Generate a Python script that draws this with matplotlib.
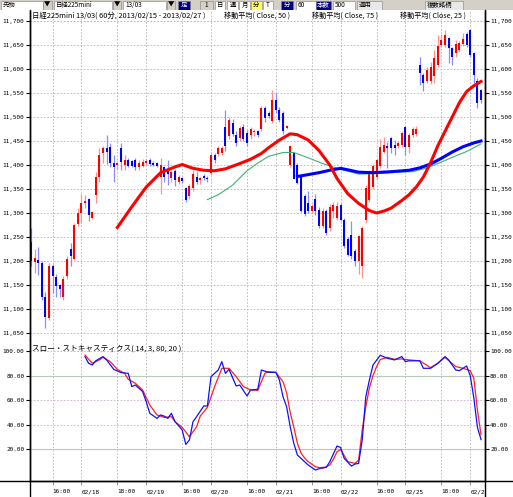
import matplotlib
matplotlib.use('Agg')
import matplotlib.pyplot as plt
from matplotlib.patches import Rectangle
from matplotlib.lines import Line2D

W, H = 513, 497
MONO = ['DejaVu Sans Mono']
CJK = ['Noto Sans CJK JP', 'DejaVu Sans']
FS = 4.3

# 60-minute candles, bar index 0..125
opens = [11240, 11198, 11203, 11195, 11125, 11081, 11190, 11166, 11150, 11125,
         11168, 11225, 11205, 11277, 11300, 11320, 11330, 11289, 11338, 11376,
         11424, 11435, 11438, 11405, 11400, 11435, 11400, 11410, 11408, 11410,
         11395, 11398, 11405, 11410, 11405, 11404, 11375, 11395, 11390, 11372,
         11387, 11364, 11372, 11352, 11335, 11352, 11375, 11368, 11378, 11372,
         11384, 11420, 11422, 11424, 11480, 11460, 11488, 11463, 11456, 11480,
         11467, 11463, 11468, 11470, 11474, 11519, 11508, 11491, 11536, 11515,
         11508, 11478, 11399, 11425, 11401, 11376, 11335, 11321, 11304, 11330,
         11307, 11272, 11304, 11268, 11304, 11290, 11317, 11286, 11245, 11255,
         11220, 11200, 11190, 11286, 11327, 11355, 11376, 11397, 11428, 11440,
         11456, 11442, 11440, 11442, 11480, 11438, 11462, 11465, 11608, 11588,
         11574, 11574, 11585, 11608, 11650, 11650, 11664, 11643, 11633, 11640,
         11652, 11673, 11681, 11633, 11574, 11557]
highs = [11268, 11226, 11230, 11200, 11135, 11195, 11193, 11172, 11152, 11168,
         11210, 11237, 11280, 11310, 11340, 11338, 11332, 11305, 11386, 11435,
         11440, 11462, 11445, 11420, 11408, 11445, 11420, 11415, 11410, 11415,
         11410, 11412, 11412, 11415, 11408, 11406, 11415, 11398, 11411, 11390,
         11392, 11380, 11375, 11355, 11360, 11390, 11385, 11375, 11382, 11378,
         11425, 11425, 11440, 11440, 11515, 11500, 11495, 11470, 11482, 11485,
         11472, 11480, 11475, 11472, 11522, 11522, 11512, 11557, 11550, 11520,
         11512, 11484, 11441, 11426, 11405, 11378, 11340, 11345, 11318, 11340,
         11312, 11310, 11308, 11318, 11322, 11322, 11320, 11290, 11250, 11283,
         11225, 11255, 11272, 11358, 11390, 11402, 11415, 11455, 11458, 11448,
         11458, 11452, 11450, 11470, 11482, 11466, 11480, 11482, 11626, 11592,
         11605, 11615, 11640, 11670, 11673, 11681, 11667, 11646, 11660, 11658,
         11674, 11678, 11684, 11636, 11581, 11559]
lows = [11190, 11174, 11171, 11118, 11060, 11078, 11133, 11126, 11126, 11118,
        11163, 11190, 11202, 11272, 11282, 11310, 11284, 11288, 11320, 11365,
        11405, 11403, 11396, 11365, 11392, 11390, 11390, 11395, 11395, 11390,
        11390, 11395, 11400, 11398, 11398, 11396, 11339, 11365, 11359, 11365,
        11357, 11360, 11362, 11322, 11330, 11345, 11360, 11360, 11368, 11365,
        11380, 11405, 11418, 11420, 11430, 11455, 11460, 11440, 11450, 11450,
        11440, 11455, 11460, 11458, 11470, 11490, 11498, 11488, 11508, 11490,
        11465, 11475, 11395, 11370, 11360, 11302, 11294, 11300, 11300, 11296,
        11268, 11268, 11255, 11262, 11290, 11285, 11283, 11228, 11210, 11205,
        11189, 11172, 11165, 11280, 11323, 11350, 11370, 11393, 11425, 11393,
        11425, 11420, 11435, 11438, 11421, 11424, 11458, 11460, 11567, 11554,
        11570, 11568, 11570, 11605, 11645, 11645, 11612, 11609, 11625, 11635,
        11648, 11645, 11625, 11570, 11518, 11530]
closes = [11200, 11207, 11195, 11125, 11084, 11190, 11168, 11148, 11141, 11163,
          11205, 11210, 11275, 11299, 11320, 11326, 11295, 11303, 11375, 11420,
          11435, 11428, 11405, 11395, 11405, 11407, 11410, 11398, 11398, 11395,
          11405, 11406, 11408, 11402, 11400, 11398, 11400, 11375, 11382, 11385,
          11369, 11376, 11366, 11328, 11356, 11382, 11365, 11372, 11372, 11370,
          11420, 11410, 11435, 11436, 11440, 11494, 11465, 11446, 11477, 11455,
          11446, 11475, 11470, 11462, 11519, 11498, 11502, 11536, 11515, 11494,
          11470, 11481, 11439, 11371, 11363, 11304, 11297, 11304, 11314, 11305,
          11272, 11304, 11258, 11313, 11317, 11315, 11286, 11231, 11213, 11210,
          11199, 11252, 11268, 11352, 11386, 11397, 11411, 11438, 11442, 11436,
          11435, 11436, 11446, 11466, 11438, 11462, 11476, 11476, 11591, 11570,
          11598, 11605, 11622, 11647, 11660, 11671, 11643, 11626, 11653, 11655,
          11662, 11650, 11629, 11588, 11529, 11535]

# moving averages (bar index, price)
ma25_idx = [24, 28, 32, 36, 40, 42, 45, 48, 51, 54, 58, 61, 64, 66, 69, 72, 74, 77,
            80, 83, 85, 88, 91, 94, 96, 98, 100, 103, 105, 107, 109, 111, 113, 115,
            117, 119, 121, 123, 125]
ma25_val = [11270, 11313, 11354, 11384, 11396, 11401, 11393, 11389, 11388, 11392,
            11403, 11412, 11424, 11436, 11452, 11465, 11463, 11452, 11430, 11400,
            11372, 11340, 11320, 11305, 11300, 11304, 11310, 11326, 11338, 11354,
            11375, 11405, 11440, 11470, 11500, 11530, 11553, 11565, 11574]
ma50_idx = [49, 52, 56, 60, 63, 66, 70, 73, 77, 81, 86, 91, 96, 101, 106, 110, 114,
            117, 121, 125]
ma50_val = [11328, 11338, 11358, 11388, 11404, 11418, 11426, 11426, 11415, 11403,
            11391, 11381, 11382, 11385, 11386, 11394, 11406, 11416, 11428, 11444]
ma75_idx = [74, 77, 80, 83, 86, 88, 91, 95, 100, 105, 108, 111, 114, 117, 120, 123, 125]
ma75_val = [11376, 11380, 11384, 11389, 11393, 11390, 11385, 11384, 11386, 11389,
            11394, 11402, 11414, 11427, 11438, 11446, 11450]

# slow stochastics (14, 3, 80, 20)
k_idx = [15, 16, 17, 18, 20, 21, 23, 25, 27, 28, 29, 31, 32, 33, 35, 36, 37, 38, 39,
         40, 41, 42, 43, 44, 45, 46, 48, 49, 50, 52, 53, 54, 55, 57, 58, 60, 61, 63,
         64, 66, 68, 69, 70, 71, 72, 73, 74, 76, 77, 79, 81, 82, 83, 85, 86, 87, 89,
         90, 91, 92, 93, 94, 95, 97, 99, 101, 103, 104, 105, 108, 109, 111, 113, 115,
         116, 118, 119, 121, 122, 123, 124, 125]
k_val = [95.4, 90, 88.6, 92, 95.4, 92.7, 85, 82.4, 81.8, 71, 72.3, 67, 58.8, 49.3,
         45.2, 48, 47, 45.2, 49.3, 42.5, 39.3, 35.7, 24, 27.6, 42.5, 46.6, 55.3, 55.3,
         79.1, 84.5, 91.3, 81.8, 85, 71.5, 72.3, 63.4, 68.3, 68.8, 84.5, 82.6, 82.6,
         76.4, 62.8, 54.7, 38.4, 24.9, 15.4, 10, 7.3, 3.2, 5.3, 5.3, 10, 22.7, 21.6,
         12.7, 6.4, 8.1, 8.6, 27.6, 62.8, 76.4, 88.6, 96.5, 94, 92.7, 95.4, 91.3, 92,
         92, 85.9, 85.9, 90, 95.4, 92.7, 84.5, 84, 87.8, 80, 62, 38, 28]
d_idx = [15, 17, 19, 20, 22, 24, 26, 27, 29, 31, 33, 35, 37, 39, 40, 42, 44, 46, 47,
         49, 51, 53, 55, 57, 59, 61, 63, 64, 65, 66, 68, 70, 71, 72, 73, 74, 75, 76,
         77, 79, 81, 83, 84, 85, 86, 87, 88, 90, 91, 92, 93, 94, 95, 96, 97, 99, 101,
         103, 105, 108, 111, 113, 115, 118, 120, 122, 123, 124, 125]
d_val = [96.7, 90, 92.7, 94.8, 91.3, 85, 81.8, 77, 73.7, 68.3, 56, 48, 46, 46.6, 42.5,
         37.9, 30.3, 38.4, 47, 54.2, 71, 85.9, 85.9, 79.1, 71, 68.3, 68, 75, 82, 83.2,
         82.6, 75, 66, 50, 38, 25, 17, 13, 10, 5.9, 4.5, 7.3, 12, 18, 20, 15, 10, 8.6,
         11.3, 35.7, 54.7, 70, 80, 87.3, 93, 94.8, 93.2, 93.5, 92.7, 92, 86.4, 90,
         94.8, 87.3, 85.9, 84, 77.8, 52, 32]

x_ticks = [6, 14, 24, 32, 42, 50, 60, 68, 78, 86, 96, 104, 114, 122]
x_labels = ['16:00', '02/18', '18:00', '02/19', '16:00', '02/20', '16:00', '02/21',
            '16:00', '02/22', '16:00', '02/25', '18:00', '02/2']
price_ticks = list(range(11050, 11701, 50))
stoch_ticks = [20, 40, 60, 80, 100]

XL = (-0.28, 125.97)
left, right = 30 / W, 484.5 / W
fig = plt.figure(figsize=(W / 100, H / 100), dpi=100)
fig.patch.set_facecolor('white')

ax = fig.add_axes([left, 1 - 340 / H, right - left, 329 / H])
ax2 = fig.add_axes([left, 1 - 481 / H, right - left, 141 / H])

grid_kw = dict(color='#b4b4b4', lw=0.6, ls=(0, (2, 2)), zorder=0)
for a in (ax, ax2):
    a.set_xlim(*XL)
    for t in x_ticks:
        a.axvline(t, **grid_kw)
    a.spines['top'].set_visible(False)
    for s in ('left', 'right', 'bottom'):
        a.spines[s].set_linewidth(1.0)
    a.tick_params(axis='y', which='both', left=True, right=True, labelleft=True,
                  labelright=True, direction='out', length=3, width=0.8,
                  labelsize=FS, pad=1)

# main price panel
ax.set_ylim(11035.4, 11720.8)
ax.spines['bottom'].set_visible(False)
ax.set_xticks([])
for p in price_ticks:
    ax.axhline(p, color='#d090c0' if p == 11700 else '#b4b4b4', lw=0.6,
               ls=(0, (2, 2)), zorder=0)
ax.set_yticks(price_ticks)
ax.set_yticklabels([f'{p:,}' for p in price_ticks], family=MONO, fontsize=FS)

for i, (o, h, l, c) in enumerate(zip(opens, highs, lows, closes)):
    up = c >= o
    body = '#ff0000' if up else '#0000ff'
    wick = '#ff9090' if up else '#8c8cff'
    ax.vlines(i, l, h, color=wick, lw=0.9, zorder=2)
    ax.bar(i, max(abs(c - o), 2), bottom=min(o, c), width=0.6, color=body,
           lw=0, zorder=3)

ax.plot(ma50_idx, ma50_val, color='#3cb371', lw=0.8, zorder=4)
ax.plot(ma75_idx, ma75_val, color='#0000ff', lw=2.2, zorder=5)
ax.plot(ma25_idx, ma25_val, color='#ff0000', lw=2.2, zorder=6)

ax.text(2 / 454.5, 0.999, '日経225mini 13/03( 60分, 2013/02/15 - 2013/02/27 )',
        transform=ax.transAxes, family=CJK, fontsize=5.3, va='top', ha='left')
for xp, lab in [(224, '移動平均( Close, 50 )'), (312, '移動平均( Close, 75 )'),
                (400, '移動平均( Close, 25 )')]:
    ax.text((xp - 30) / 454.5, 0.999, lab, transform=ax.transAxes, family=CJK,
            fontsize=5.1, va='top', ha='left')

# stochastics panel
ax2.set_ylim(-5.7, 108.9)
for v in stoch_ticks:
    if v in (20, 80):
        ax2.axhline(v, color='#bcc8bc', lw=0.8, zorder=0)
    else:
        ax2.axhline(v, color='#c8b0c8', lw=0.6, ls=(0, (2, 2)), zorder=0)
ax2.set_yticks(stoch_ticks)
ax2.set_yticklabels([f'{v:.2f}' for v in stoch_ticks], family=MONO, fontsize=FS)
ax2.plot(d_idx, d_val, color='#ff2020', lw=0.9, zorder=3)
ax2.plot(k_idx, k_val, color='#1010ff', lw=0.9, zorder=4)
ax2.set_xticks(x_ticks)
ax2.set_xticklabels(x_labels, family=MONO, fontsize=FS, ha='left')
ax2.tick_params(axis='x', direction='out', length=3, width=0.6, color='#808080',
                pad=3)
ax2.text(2 / 454.5, 0.97, 'スロー・ストキャスティクス( 14, 3, 80, 20 )',
         transform=ax2.transAxes, family=CJK, fontsize=5.5, va='top', ha='left')

# frame lines running past the panels
fig.add_artist(Line2D([0, 1], [1 - 481 / H] * 2, color='black', lw=1.0))
fig.add_artist(Line2D([left] * 2, [0, 1 - 10 / H], color='black', lw=1.0))
fig.add_artist(Line2D([right] * 2, [0, 1 - 10 / H], color='black', lw=1.0))

# toolbar strip
tb = fig.add_axes([0, 1 - 10 / H, 1, 10 / H])
tb.set_xlim(0, W)
tb.set_ylim(10, 0)
tb.axis('off')
tb.add_patch(Rectangle((0, 0), W, 10, color='#d4d0c8'))
boxes = [(1, 42, '先物', 'white', 'black'), (43, 9, '▼', '#d4d0c8', 'black'),
         (54, 58, '日経225mini', 'white', 'black'), (113, 8, '▼', '#d4d0c8', 'black'),
         (123, 43, '13/03', 'white', 'black'), (167, 8, '▼', '#d4d0c8', 'black'),
         (178, 12, '足', '#000080', 'white'), (200, 13, '1', '#d4d0c8', 'black'),
         (215, 10, '日', '#ffffff', 'black'), (227, 11, '週', '#ffffff', 'black'),
         (239, 11, '月', '#ffffff', 'black'), (251, 11, '分', '#ffff60', 'black'),
         (263, 10, 'T', '#ffffff', 'black'), (281, 12, '分', '#000080', 'white'),
         (296, 20, '60', 'white', 'black'), (316, 15, '本数', '#000080', 'white'),
         (333, 22, '500', 'white', 'black'), (357, 25, '適用', '#e8e8e8', 'black'),
         (425, 38, '複数銘柄', '#e8e8e8', 'black')]
for x0, w, txt, fc, tc in boxes:
    tb.add_patch(Rectangle((x0, 0.5), w, 9, facecolor=fc, edgecolor='#808080',
                           lw=0.4))
    tb.text(x0 + (w / 2 if w < 20 else 2), 5.0, txt, family=CJK, fontsize=4.6,
            color=tc, ha='center' if w < 20 else 'left', va='center')

fig.savefig('out.png', dpi=100, facecolor='white')
